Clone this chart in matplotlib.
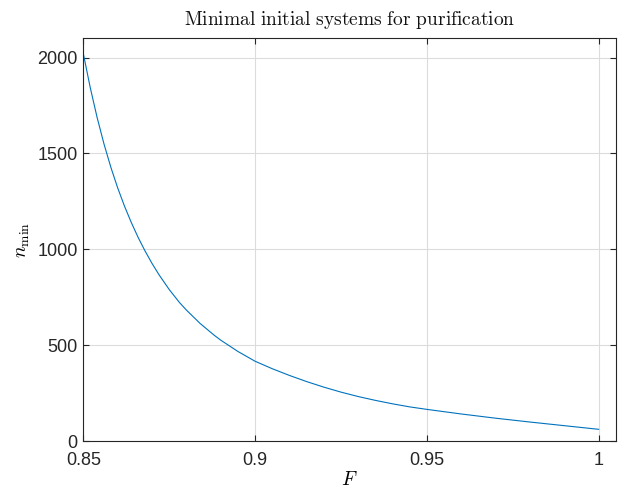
import numpy as np
import matplotlib.pyplot as plt

# values
F = [0.850, 0.852, 0.854, 0.856, 0.858, 0.860, 0.862, 0.864, 0.866, 0.868,
     0.870, 0.872, 0.875, 0.878, 0.880, 0.884, 0.888, 0.890, 0.895, 0.900,
     0.905, 0.910, 0.915, 0.920, 0.925, 0.930, 0.935, 0.940, 0.945, 0.950,
     0.960, 0.970, 0.980, 0.990, 1.000]
n_min = [2020, 1844, 1688, 1550, 1428, 1320, 1224, 1138, 1060, 990,
         926, 868, 790, 722, 683, 613, 553, 526, 467, 416,
         377, 342, 310, 281, 255, 232, 212, 194, 178, 165,
         141, 119, 99, 80, 61]

x_ticks = [0.85, 0.9, 0.95, 1.0]
x_tick_labels = ['0.85', '0.9', '0.95', '1']
y_ticks = [0, 500, 1000, 1500, 2000]

plt.rcParams['font.family'] = ['Liberation Sans', 'DejaVu Sans']
plt.rcParams['mathtext.fontset'] = 'cm'

fig = plt.figure(figsize=(6.22, 4.88), dpi=100)
ax = fig.add_axes([0.134, 0.0963, 0.856, 0.825])

ax.plot(F, n_min, color='#0072BD', linewidth=0.8)

ax.set_xlim(0.85, 1.005)
ax.set_ylim(0, 2100)
ax.set_xticks(x_ticks)
ax.set_xticklabels(x_tick_labels)
ax.set_yticks(y_ticks)

ax.grid(True, color='#dcdcdc', linewidth=0.8)
ax.set_axisbelow(True)
for s in ax.spines.values():
    s.set_color('#262626')
    s.set_linewidth(0.8)
ax.tick_params(direction='in', top=True, right=True, length=4, width=0.8,
               color='#262626', labelcolor='#262626', labelsize=13)
ax.tick_params(axis='x', pad=8)
ax.tick_params(axis='y', pad=4)

ax.set_title(r'$\mathrm{Minimal\ initial\ systems\ for\ purification}$',
             fontsize=14, pad=10, color='#111111')
ax.set_xlabel(r'$F$', fontsize=14, labelpad=1)
ax.set_ylabel(r'$n_{\mathrm{min}}$', fontsize=14, labelpad=4)

fig.savefig('out.png', dpi=100)
